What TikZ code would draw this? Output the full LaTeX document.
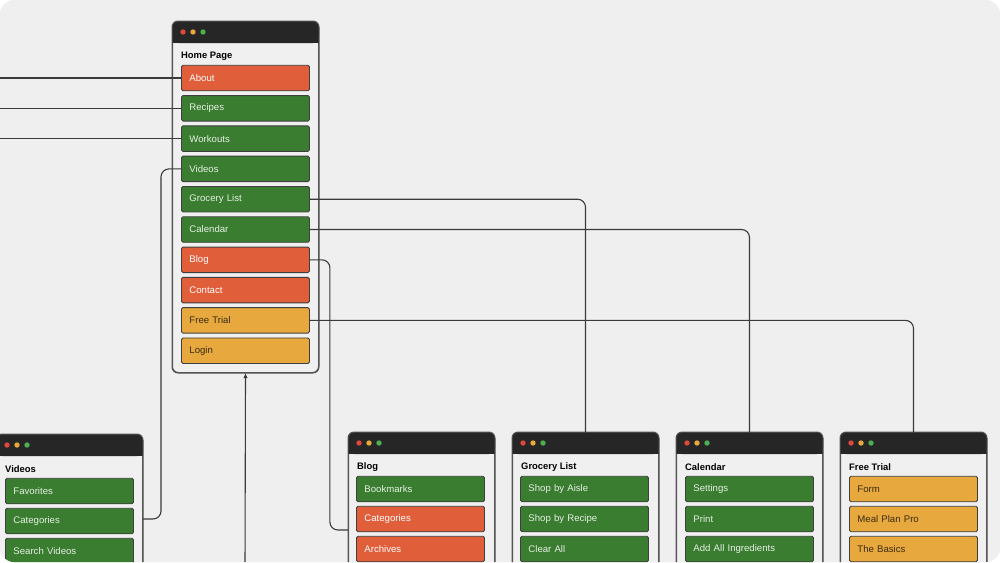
\documentclass[tikz,border=0pt]{standalone}
\usepackage{fontspec}
\setmainfont{Liberation Sans}
\usetikzlibrary{arrows.meta,calc}
\definecolor{bgc}{HTML}{EFEFEF}
\definecolor{winfill}{HTML}{F0F0F0}
\definecolor{winline}{HTML}{555555}
\definecolor{hdrc}{HTML}{262626}
\definecolor{btnline}{HTML}{3F3F3F}
\definecolor{redc}{HTML}{E05E3A}
\definecolor{greenc}{HTML}{3A7D30}
\definecolor{amberc}{HTML}{E7A83E}
\definecolor{gtext}{HTML}{E6F0E4}
\definecolor{atext}{HTML}{3A2C12}
\definecolor{connc}{HTML}{3A3A3A}
\definecolor{dotr}{HTML}{E0473E}
\definecolor{doty}{HTML}{E8A83A}
\definecolor{dotg}{HTML}{4CAF50}
\tikzset{
 winbox/.style={draw=winline, fill=winfill, line width=1pt, rounded corners=6pt, inner sep=0pt},
 btn/.style={draw=btnline, line width=0.9pt, rounded corners=1.5pt, minimum height=25.5pt, text width=112pt, inner xsep=8pt, inner ysep=0pt, align=left, anchor=west, font=\fontsize{9.6}{11}\selectfont},
 rbtn/.style={btn, fill=redc, text=white},
 gbtn/.style={btn, fill=greenc, text=gtext},
 abtn/.style={btn, fill=amberc, text=atext},
 conn/.style={draw=connc, line width=1.1pt, rounded corners=8pt},
 wtitle/.style={anchor=west, font=\bfseries\fontsize{9.4}{11}\selectfont, inner sep=0pt},
 windot/.style={circle, inner sep=0pt, minimum size=5.4pt}
}
\newcommand\mkwin[6]{%
 \node[winbox, minimum width=#4pt, minimum height=#5pt, anchor=north west] (#1) at (#2,#3) {};
 \fill[hdrc, rounded corners=6pt] (#1.north west) rectangle ($(#1.north east)+(0,22)$);
 \fill[hdrc] ($(#1.north west)+(0,10)$) rectangle ($(#1.north east)+(0,22)$);
 \draw[winline, line width=1pt, rounded corners=6pt] (#1.north west) rectangle (#1.south east);
 \node[windot, fill=dotr] (#1dr) at ($(#1.north west)+(11,11)$) {};
 \node[windot, fill=doty] (#1dy) at ($(#1.north west)+(21,11)$) {};
 \node[windot, fill=dotg] (#1dg) at ($(#1.north west)+(31,11)$) {};
 \node[wtitle] (#1t) at ($(#1.north west)+(9,35)$) {#6};
}
\begin{document}
\begin{tikzpicture}[x=1pt,y=-1pt]
\useasboundingbox (0,0) rectangle (1000,562);
\fill[white] (0,0) rectangle (1000,562);
\fill[bgc, rounded corners=14pt] (0,0) rectangle (1000,562);
\begin{scope}
\clip[rounded corners=14pt] (0,0) rectangle (1000,562);

% Home page window
\mkwin{home}{172}{21}{146}{351}{Home Page}
\node[rbtn] (about) at (181,78) {About};
\node[gbtn] (recipes) at (181,108.3) {Recipes};
\node[gbtn] (workouts) at (181,138.6) {Workouts};
\node[gbtn] (videos) at (181,168.9) {Videos};
\node[gbtn] (grocery) at (181,199.2) {Grocery List};
\node[gbtn] (calendar) at (181,229.5) {Calendar};
\node[rbtn] (blog) at (181,259.8) {Blog};
\node[rbtn] (contact) at (181,290.1) {Contact};
\node[abtn] (trial) at (181,320.4) {Free Trial};
\node[abtn] (login) at (181,350.7) {Login};

% Bottom windows
\mkwin{vwin}{-4}{434}{146}{160}{Videos}
\node[gbtn] (vfav) at (5,491) {Favorites};
\node[gbtn] (vcat) at (5,521) {Categories};
\node[gbtn] (vsearch) at (5,551) {Search Videos};

\mkwin{bwin}{348}{432}{146}{160}{Blog}
\node[gbtn] (bbook) at (356,489) {Bookmarks};
\node[rbtn] (bcat) at (356,519) {Categories};
\node[rbtn] (barch) at (356,549) {Archives};

\mkwin{gwin}{512}{432}{146}{160}{Grocery List}
\node[gbtn] (gaisle) at (520,489) {Shop by Aisle};
\node[gbtn] (grecipe) at (520,519) {Shop by Recipe};
\node[gbtn] (gclear) at (520,549) {Clear All};

\mkwin{cwin}{676}{432}{146}{160}{Calendar}
\node[gbtn] (cset) at (685,489) {Settings};
\node[gbtn] (cprint) at (685,519) {Print};
\node[gbtn] (cadd) at (685,549) {Add All Ingredients};

\mkwin{fwin}{840}{432}{146}{160}{Free Trial}
\node[abtn] (fform) at (849,489) {Form};
\node[abtn] (fpro) at (849,519) {Meal Plan Pro};
\node[abtn] (fbasic) at (849,549) {The Basics};

% Connectors
\coordinate (e1) at (-5,78);
\coordinate (e2) at (-5,108.3);
\coordinate (e3) at (-5,138.6);
\draw[conn] (e1) -- (about.west);
\draw[conn] (e2) -- (recipes.west);
\draw[conn] (e3) -- (workouts.west);
\draw[conn] (videos.west) -- ++(-20,0) |- ([yshift=2pt]vcat.center -| vwin.east);
\draw[conn] (grocery.east) -| (gwin.north);
\draw[conn] (calendar.east) -| (cwin.north);
\draw[conn] (trial.east) -| (fwin.north);
\draw[conn] (blog.east) -- ++(20,0) |- ([yshift=-11pt]bcat.center -| bwin.west);
\coordinate (ab) at (245,570);
\draw[draw=connc, line width=1.1pt, -{Latex[length=5pt,width=4.5pt]}] (ab) -- (home.south);
\end{scope}
\end{tikzpicture}
\end{document}
